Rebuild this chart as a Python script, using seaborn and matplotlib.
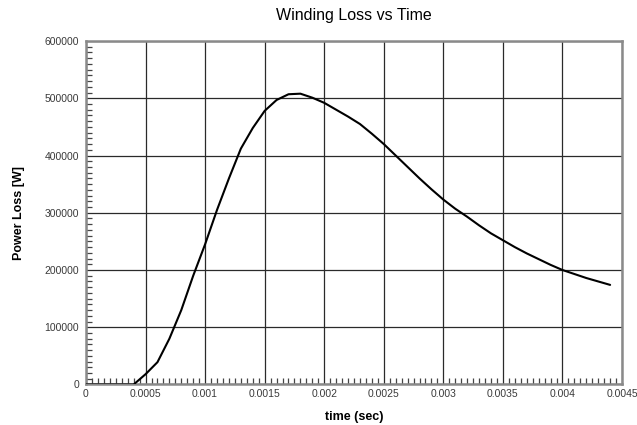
import numpy as np
import pandas as pd
import matplotlib
matplotlib.use("Agg")
import matplotlib.pyplot as plt
import seaborn as sns
from matplotlib.ticker import MultipleLocator, FixedLocator, FixedFormatter

# Winding loss samples (time in seconds, power in watts)
time_s = [0.0, 0.0001, 0.0002, 0.0003, 0.0004, 0.0005, 0.0006, 0.0007, 0.0008,
          0.0009, 0.0010, 0.0011, 0.0012, 0.0013, 0.0014, 0.0015, 0.0016,
          0.0017, 0.0018, 0.0019, 0.0020, 0.0021, 0.0022, 0.0023, 0.0024,
          0.0025, 0.0026, 0.0027, 0.0028, 0.0029, 0.0030, 0.0031, 0.0032,
          0.0033, 0.0034, 0.0035, 0.0036, 0.0037, 0.0038, 0.0039, 0.0040,
          0.0041, 0.0042, 0.0043, 0.0044]
power_w = [0, 0, 0, 0, 0, 18000, 39000, 80000, 130000,
           190000, 245000, 305000, 360000, 412000, 448000, 478000, 497000,
           507000, 508000, 501000, 492000, 480000, 468000, 455000, 438000,
           420000, 400000, 380000, 360000, 341000, 323000, 307000, 293000,
           278000, 264000, 252000, 240000, 229000, 219000, 209000, 200000,
           193000, 186000, 180000, 174000]

x_ticks = [0, 0.0005, 0.001, 0.0015, 0.002, 0.0025, 0.003, 0.0035, 0.004, 0.0045]
x_tick_labels = ["0", "0.0005", "0.001", "0.0015", "0.002", "0.0025", "0.003",
                 "0.0035", "0.004", "0.0045"]
y_ticks = [0, 100000, 200000, 300000, 400000, 500000, 600000]
y_tick_labels = ["0", "100000", "200000", "300000", "400000", "500000", "600000"]

sns.set_style("white")
plt.rcParams["font.family"] = ["Liberation Sans", "DejaVu Sans"]

df = pd.DataFrame({"time": time_s, "power": power_w})

fig = plt.figure(figsize=(6.37, 4.25), dpi=100)
ax = fig.add_axes([0.135, 0.0953, 0.8415, 0.8082])

frame_col = "#8a8a8a"
grid_col = "#2a2a2a"

sns.lineplot(data=df, x="time", y="power", ax=ax, color="black", linewidth=1.5,
             zorder=3)

ax.set_xlim(0, 0.0045)
ax.set_ylim(0, 600000)

ax.xaxis.set_major_locator(FixedLocator(x_ticks))
ax.xaxis.set_major_formatter(FixedFormatter(x_tick_labels))
ax.yaxis.set_major_locator(FixedLocator(y_ticks))
ax.yaxis.set_major_formatter(FixedFormatter(y_tick_labels))
ax.xaxis.set_minor_locator(MultipleLocator(0.00005))
ax.yaxis.set_minor_locator(MultipleLocator(10000))

ax.grid(True, which="major", color=grid_col, linewidth=0.9)
ax.tick_params(which="major", length=0, labelsize=7.5, labelcolor="#3a3a3a")
ax.tick_params(axis="x", which="major", pad=3)
ax.tick_params(axis="y", which="major", pad=5)
ax.tick_params(which="minor", direction="in", length=4, width=0.9, color="#444444")
ax.tick_params(axis="x", which="minor", top=False, bottom=True)
ax.tick_params(axis="y", which="minor", left=True, right=False)

for side in ["left", "bottom", "top", "right"]:
    ax.spines[side].set_color(frame_col)
    ax.spines[side].set_linewidth(1.8)

ax.set_xlabel("time (sec)", fontsize=9, fontweight="bold", labelpad=9, color="black")
ax.set_ylabel("Power Loss [W]", fontsize=9, fontweight="bold", labelpad=14, color="black")
ax.set_title("Winding Loss vs Time", fontsize=11.5, pad=15, color="black")

fig.savefig("out.png", dpi=100, facecolor="white")
